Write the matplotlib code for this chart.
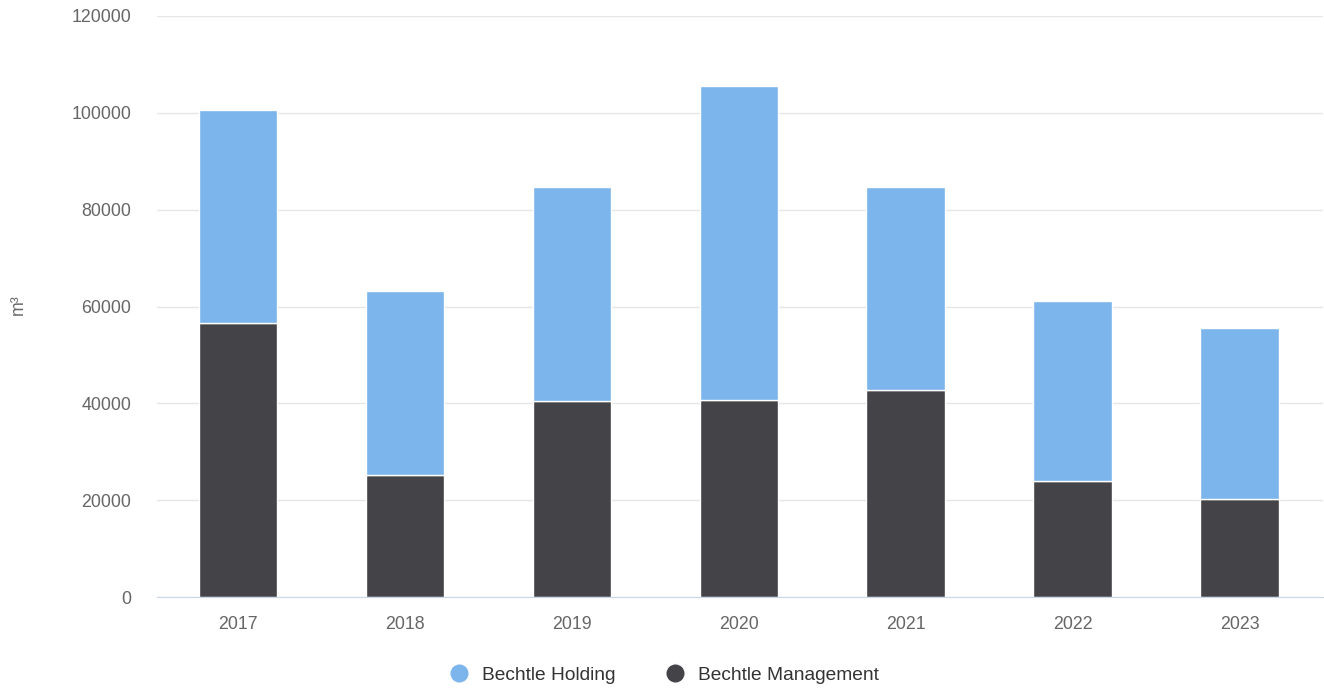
import matplotlib
matplotlib.use("Agg")
import matplotlib.pyplot as plt
from matplotlib.lines import Line2D
import numpy as np

years = ["2017", "2018", "2019", "2020", "2021", "2022", "2023"]
management = [56600, 25200, 40500, 40700, 42800, 23900, 20200]
holding = [44000, 37900, 44200, 64800, 41900, 37300, 35300]
yticks = [0, 20000, 40000, 60000, 80000, 100000, 120000]

c_hold = "#7cb5ec"
c_mgmt = "#434348"

plt.rcParams['font.family'] = ['Liberation Sans', 'DejaVu Sans']
fig = plt.figure(figsize=(13.24, 6.89), dpi=100)
ax = fig.add_axes([157/1324, 1-597/689, (1323-157)/1324, (597-16)/689])

x = np.arange(len(years))
w = 0.47
ax.bar(x, management, width=w, color=c_mgmt, edgecolor="white", linewidth=1, zorder=3)
ax.bar(x, holding, bottom=management, width=w, color=c_hold, edgecolor="white", linewidth=1, zorder=3)

ax.set_xlim(-0.485, len(years)-0.5)
ax.set_ylim(0, 120000)
ax.set_yticks(yticks)
ax.set_yticklabels([str(v) for v in yticks])
ax.set_xticks(x)
ax.set_xticklabels(years)
ax.tick_params(axis='y', length=0, pad=18.7, labelsize=12.8, labelcolor="#666666")
ax.tick_params(axis='x', length=0, pad=14, labelsize=12.8, labelcolor="#666666")
ax.grid(axis='y', color="#e6e6e6", linewidth=1, zorder=0)
for s in ["top", "right", "left"]:
    ax.spines[s].set_visible(False)
ax.spines["bottom"].set_color("#ccd6eb")
ax.spines["bottom"].set_zorder(4)
fig.text(18/1324, 1-305/689, "m³", rotation=90, fontsize=12.8, color="#666666", ha="center", va="center")

handles = [Line2D([0], [0], marker='o', color='w', markerfacecolor=c_hold, markersize=14, label="Bechtle Holding"),
           Line2D([0], [0], marker='o', color='w', markerfacecolor=c_mgmt, markersize=14, label="Bechtle Management")]
fig.legend(handles=handles, loc="center", bbox_to_anchor=(659.5/1324, 1-675/689), ncol=2, frameon=False,
           fontsize=13.8, handletextpad=0.2, columnspacing=2.13, labelcolor="#333333")

fig.savefig("out.png", dpi=100)
